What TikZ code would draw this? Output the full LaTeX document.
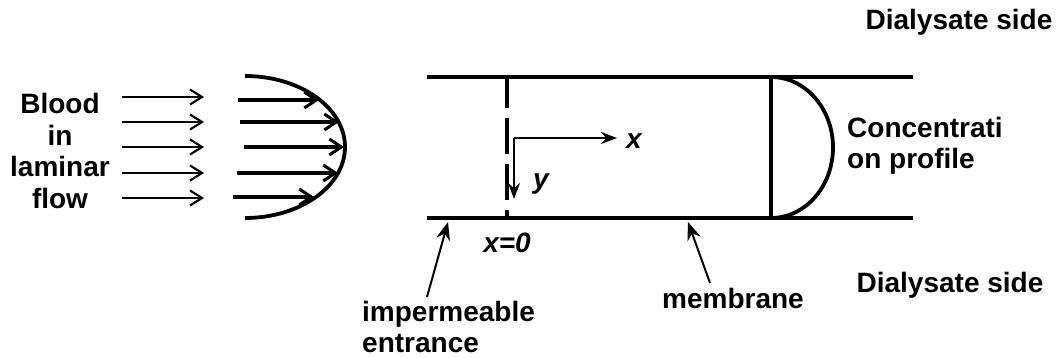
\documentclass[tikz,border=0pt]{standalone}
\usepackage{fontspec}
\setmainfont{Liberation Sans}
\usetikzlibrary{arrows.meta}
\begin{document}
\begin{tikzpicture}[x=1pt,y=-1pt,
  lbl/.style={font=\fontsize{28}{31.5}\selectfont\bfseries, inner sep=0pt},
  ilbl/.style={font=\fontsize{28}{31.5}\selectfont\bfseries\itshape, inner sep=0pt},
  thinarr/.style={line width=1.9pt, -{Straight Barb[length=12pt,width=15pt,line width=2.1pt]}},
  thickarr/.style={line width=4pt, -{Straight Barb[length=12pt,width=16pt,line width=3pt]}},
  wall/.style={line width=4.2pt},
  ptr/.style={line width=2pt, -{Stealth[length=18pt,width=14pt]}},
  axarr/.style={line width=2.3pt, -{Stealth[length=16pt,width=12pt]}}]
\useasboundingbox (0,0) rectangle (1060,358);
% left label
\node[lbl, align=center] (blood) at (60,151) {Blood\\in\\laminar\\flow};
% incoming thin arrows
\foreach \i/\y in {1/97,2/122,3/147,4/173,5/198}{
  \coordinate (s\i) at (122,\y);
  \coordinate (e\i) at (204,\y);
  \draw[thinarr] (s\i) -- (e\i);
}
% velocity profile (half ellipse)
\coordinate (ptop) at (245,76);
\draw[line width=3.8pt] (ptop) arc[start angle=-90,end angle=90,x radius=100,y radius=71];
\coordinate (a1) at (238,100); \coordinate (b1) at (319,100);
\coordinate (a2) at (240,122); \coordinate (b2) at (339,122);
\coordinate (a3) at (244,147); \coordinate (b3) at (344,147);
\coordinate (a4) at (237,173); \coordinate (b4) at (338,173);
\coordinate (a5) at (233,197); \coordinate (b5) at (314,197);
\foreach \i in {1,...,5}{\draw[thickarr] (a\i) -- (b\i);}
% channel walls
\coordinate (tl) at (427,77); \coordinate (tr) at (913,77);
\coordinate (bl) at (427,218); \coordinate (br) at (913,218);
\draw[wall] (tl) -- (tr);
\draw[wall] (bl) -- (br);
% dashed entrance line
\coordinate (dt) at (507,77); \coordinate (db) at (507,218);
\draw[line width=4pt, dash pattern=on 36pt off 10pt, dash phase=5pt] (dt) -- (db);
% axes
\coordinate (o) at (514,138);
\coordinate (xe) at (617,138);
\coordinate (ye) at (514,199);
\draw[axarr] (o) -- (xe);
\draw[axarr] (o) -- (ye);
\node[ilbl] (xl) at (634,141) {x};
\node[ilbl] (yl) at (541,184) {y};
\node[ilbl] (x0) at (507,243) {x=0};
% concentration profile
\coordinate (ct) at (771,77); \coordinate (cb) at (771,218);
\draw[line width=3.4pt] (ct) -- (cb);
\draw[line width=3.8pt] (ct) arc[start angle=-90,end angle=90,x radius=62,y radius=70.5];
\node[lbl, align=left, anchor=west] (conc) at (847,146) {Concentrati\\on profile};
% dialysate labels
\node[lbl] (dtop) at (959,22) {Dialysate side};
\node[lbl] (dbot) at (950,285) {Dialysate side};
% pointers
\node[lbl, align=left, anchor=west] (imp) at (362,327) {impermeable\\entrance};
\node[lbl] (mem) at (733,298) {membrane};
\coordinate (impt) at (427,297); \coordinate (imph) at (448,222);
\coordinate (memt) at (710,283); \coordinate (memh) at (688,222);
\draw[ptr] (impt) -- (imph);
\draw[ptr] (memt) -- (memh);
\end{tikzpicture}
\end{document}
